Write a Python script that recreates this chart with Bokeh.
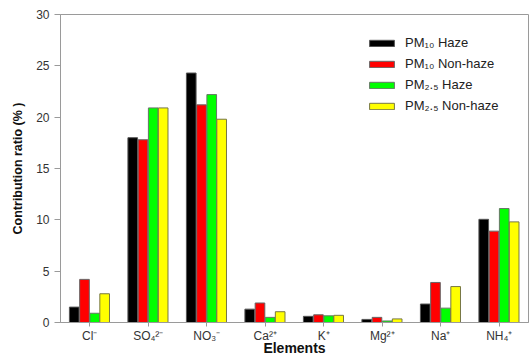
from bokeh.plotting import figure
from bokeh.models import ColumnDataSource, FactorRange, Legend, LegendItem, Range1d, FixedTicker
from bokeh.transform import dodge
from bokeh.embed import file_html
from bokeh.resources import INLINE

categories = ["Cl\u207b", "SO\u2084\u00b2\u207b", "NO\u2083\u207b", "Ca\u00b2\u207a", "K\u207a", "Mg\u00b2\u207a", "Na\u207a", "NH\u2084\u207a"]
pm10_haze = [1.5, 18.0, 24.3, 1.3, 0.6, 0.3, 1.8, 10.05]
pm10_nonhaze = [4.2, 17.8, 21.2, 1.9, 0.75, 0.5, 3.9, 8.9]
pm25_haze = [0.9, 20.9, 22.2, 0.5, 0.65, 0.15, 1.4, 11.1]
pm25_nonhaze = [2.8, 20.9, 19.8, 1.05, 0.7, 0.35, 3.5, 9.8]
series_labels = ["PM\u2081\u2080 Haze", "PM\u2081\u2080 Non-haze", "PM\u2082.\u2085 Haze", "PM\u2082.\u2085 Non-haze"]
y_ticks = [0, 5, 10, 15, 20, 25, 30]
x_title = "Elements"
y_title = "Contribution ratio (% )"

src = ColumnDataSource(dict(cat=categories, a=pm10_haze, b=pm10_nonhaze, c=pm25_haze, d=pm25_nonhaze))

FONT = "Liberation Sans"
p = figure(width=529, height=358, output_backend="svg", toolbar_location=None,
           x_range=FactorRange(factors=categories, range_padding=0),
           y_range=Range1d(0, 30),
           min_border_left=60, min_border_top=14, min_border_right=1, min_border_bottom=34)
p.xgrid.visible = False
p.ygrid.visible = False
p.outline_line_color = "#9a9a9a"
p.outline_line_width = 1

fills = ["#000000", "#ff0000", "#00ff00", "#ffff00"]
edges = ["#555555", "#666666", "#667766", "#777744"]
cols = ["a", "b", "c", "d"]
offs = [-0.265, -0.09, 0.085, 0.255]
renderers = []
for col, off, fc, ec in zip(cols, offs, fills, edges):
    r = p.vbar(x=dodge("cat", off, range=p.x_range), top=col, width=0.165, bottom=0,
               source=src, fill_color=fc, line_color=ec, line_width=1)
    renderers.append(r)

legend = Legend(items=[LegendItem(label=l, renderers=[r]) for l, r in zip(series_labels, renderers)],
                location=(306, 209), border_line_color=None, background_fill_alpha=0,
                glyph_width=31, glyph_height=8, label_height=12, spacing=6, padding=10,
                label_standoff=8, label_text_font=FONT, label_text_font_size="13px",
                label_text_color="#222222")
p.add_layout(legend, "center")

for ax in (p.xaxis[0], p.yaxis[0]):
    ax.axis_line_color = "#9a9a9a"
    ax.major_tick_line_color = "#9a9a9a"
    ax.minor_tick_line_color = None
    ax.major_tick_in = 0
    ax.major_tick_out = 6
    ax.major_label_text_font = FONT
    ax.major_label_text_font_size = "12px"
    ax.major_label_text_color = "#333333"
    ax.axis_label_text_font = FONT
    ax.axis_label_text_font_style = "bold"
    ax.axis_label_text_color = "#111111"

p.yaxis.ticker = FixedTicker(ticks=y_ticks)
p.yaxis.axis_label = y_title
p.yaxis.axis_label_text_font_size = "12.5px"
p.yaxis.major_label_standoff = 5
p.yaxis.axis_label_standoff = 8
p.xaxis.axis_label = x_title
p.xaxis.axis_label_text_font_size = "14px"
p.xaxis.major_tick_out = 4
p.xaxis.major_label_standoff = 2
p.xaxis.axis_label_standoff = -6

open("out.html", "w").write(file_html(p, INLINE))
